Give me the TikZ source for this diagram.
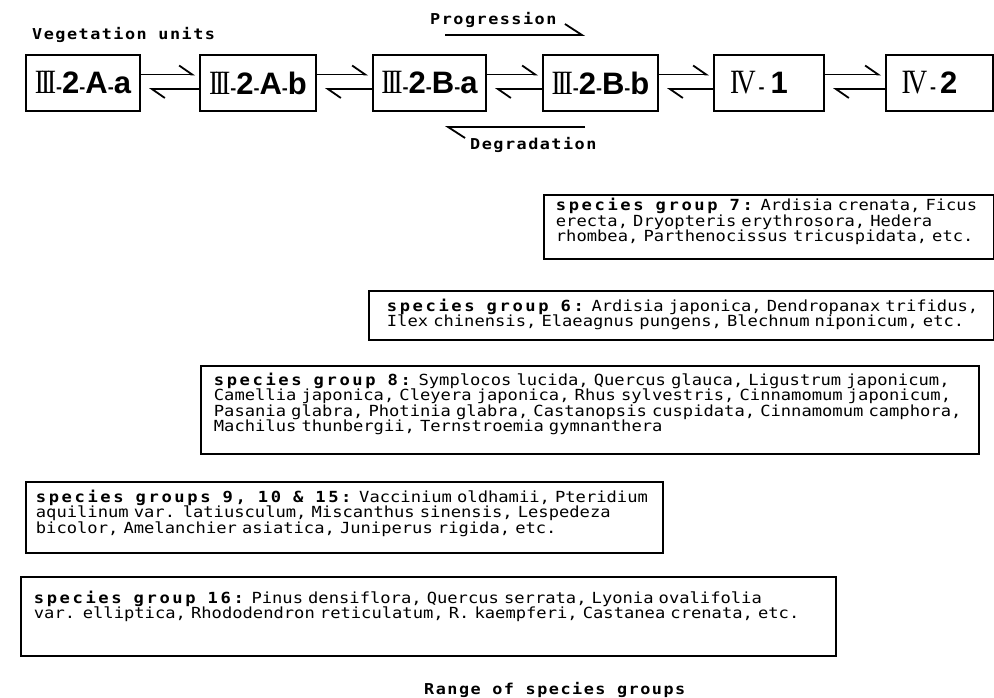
\documentclass[tikz,border=0pt]{standalone}
\usepackage{fontspec}
\usetikzlibrary{arrows.meta}
\newfontfamily\spf[FakeStretch=1.12]{DejaVu Sans Mono}
\newfontfamily\bxf{Liberation Sans}
\newfontfamily\rsf[FakeStretch=0.8]{Liberation Serif}
\newcommand\sgl[1]{{\bfseries\addfontfeature{LetterSpace=17}\spaceskip=12pt\relax #1}}
\newcommand\rIII{{\rsf\fontsize{34}{34}\selectfont I\kern-3pt I\kern-3pt I}}
\newcommand\rIV{{\rsf\fontsize{34}{34}\selectfont I\kern-3pt V}}
\newcommand\hy{{\bxf\fontsize{18}{18}\selectfont\bfseries -}}
\newcommand\tb[1]{{\bxf\bfseries\fontsize{31}{31}\selectfont #1}}
\tikzset{
  vbox/.style={draw, line width=2pt, anchor=north west, inner sep=0pt, minimum height=56pt},
  sbox/.style={draw, line width=1.8pt, anchor=base west, align=left, inner ysep=0pt,
    font=\spf\fontsize{15.3}{15.5}\selectfont},
  harp/.style={line width=1.8pt, -{Straight Barb[left,length=13pt,width=18pt]}},
  bigharp/.style={line width=1.8pt, -{Straight Barb[left,length=17pt,width=22pt]}},
  lbl/.style={anchor=base west, inner sep=0pt,
    font=\spf\bfseries\fontsize{15}{15}\selectfont\addfontfeature{LetterSpace=10}}
}
\begin{document}
\begin{tikzpicture}[x=1pt,y=-1pt]
\useasboundingbox (0,0) rectangle (994,698);
% labels
\node[lbl] (veg) at (32,40) {Vegetation units};
\node[lbl] (prog) at (430,25) {Progression};
\node[lbl] (degr) at (470,150) {Degradation};
\node[lbl] (range) at (424,694) {Range of species groups};
% vegetation unit boxes
\node[vbox, minimum width=114pt] (b1) at (25,54) {\rIII\hy\tb{2}\hy\tb{A}\hy\tb{a}};
\node[vbox, minimum width=116pt] (b2) at (199,54) {\rIII\hy\tb{2}\hy\tb{A}\hy\tb{b}};
\node[vbox, minimum width=113pt] (b3) at (372,54) {\rIII\hy\tb{2}\hy\tb{B}\hy\tb{a}};
\node[vbox, minimum width=115pt] (b4) at (542,54) {\rIII\hy\tb{2}\hy\tb{B}\hy\tb{b}};
\node[vbox, minimum width=110pt] (b5) at (713,54) {\rIV\kern3pt\hy\kern6pt\tb{1}\hspace*{20pt}};
\node[vbox, minimum width=107pt] (b6) at (885,54) {\rIV\kern3pt\hy\kern4pt\tb{2}\hspace*{20pt}};
% harpoons between boxes
\foreach \a/\b in {b1/b2,b2/b3,b3/b4,b4/b5,b5/b6}{
  \draw[harp, shorten >=4pt] ([yshift=8.5pt]\a.east) -- ([yshift=8.5pt]\b.west);
  \draw[harp, shorten >=8pt] ([yshift=-6pt]\b.west) -- ([yshift=-6pt]\a.east);
}
% progression / degradation
\coordinate (pa) at (445,35);
\coordinate (pb) at (585,35);
\coordinate (da) at (585,127);
\coordinate (db) at (445,127);
\draw[bigharp] (pa) -- (pb);
\draw[bigharp] (da) -- (db);
% species group boxes
\node[sbox, inner xsep=12pt, text width=426pt, text height=16pt, text depth=48pt] (g7) at (543,211)
 {\mbox{\sgl{species group 7:} Ardisia crenata, Ficus}\\
  \mbox{erecta, Dryopteris erythrosora, Hedera}\\
  \mbox{rhombea, Parthenocissus tricuspidata, etc.}};
\node[sbox, inner xsep=18pt, text width=589pt, text height=20pt, text depth=29pt] (g6) at (368,311)
 {\mbox{\sgl{species group 6:} Ardisia japonica, Dendropanax trifidus,}\\
  \mbox{Ilex chinensis, Elaeagnus pungens, Blechnum niponicum, etc.}};
\node[sbox, inner xsep=13pt, text width=752pt, text height=19pt, text depth=69pt] (g8) at (200,385)
 {\mbox{\sgl{species group 8:} Symplocos lucida, Quercus glauca, Ligustrum japonicum,}\\
  \mbox{Camellia japonica, Cleyera japonica, Rhus sylvestris, Cinnamomum japonicum,}\\
  \mbox{Pasania glabra, Photinia glabra, Castanopsis cuspidata, Cinnamomum camphora,}\\
  \mbox{Machilus thunbergii, Ternstroemia gymnanthera}};
\node[sbox, inner xsep=10pt, text width=617pt, text height=20pt, text depth=51pt] (g9) at (25,502)
 {\mbox{\sgl{species groups 9, 10 \& 15:} Vaccinium oldhamii, Pteridium}\\
  \mbox{aquilinum var. latiusculum, Miscanthus sinensis, Lespedeza}\\
  \mbox{bicolor, Amelanchier asiatica, Juniperus rigida, etc.}};
\node[sbox, inner xsep=13pt, text width=789pt, text height=26pt, text depth=53pt] (g16) at (20,603)
 {\mbox{\sgl{species group 16:} Pinus densiflora, Quercus serrata, Lyonia ovalifolia}\\
  \mbox{var. elliptica, Rhododendron reticulatum, R. kaempferi, Castanea crenata, etc.}};
\end{tikzpicture}
\end{document}
